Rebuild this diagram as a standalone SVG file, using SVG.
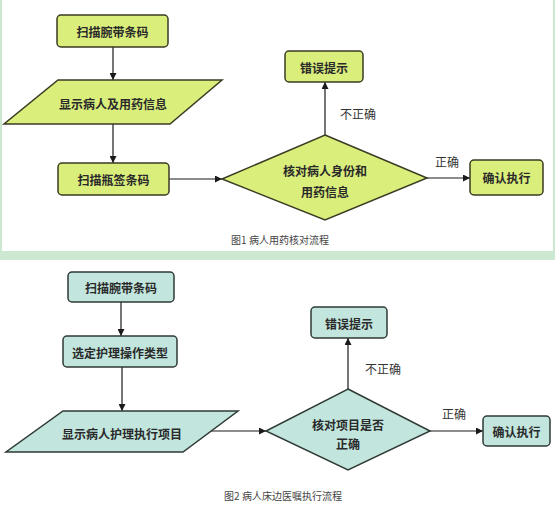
<svg xmlns="http://www.w3.org/2000/svg" width="555" height="508" viewBox="0 0 555 508">
<defs>
<marker id="ah" viewBox="0 0 10 10" refX="10" refY="5" markerWidth="7" markerHeight="7" orient="auto" markerUnits="userSpaceOnUse"><path d="M0,0 L10,5 L0,10 z" fill="#1a1a1a"/></marker>
<style>
.y{fill:#daee7c;stroke:#3b3a22;stroke-width:1.5}
.t{fill:#c2e6de;stroke:#2f3a36;stroke-width:1.5}
.tx{font-family:"Noto Sans CJK SC","Noto Sans",sans-serif;font-size:12px;font-weight:bold;fill:#2a2a2a;text-anchor:middle;dominant-baseline:central}
.lb{font-family:"Noto Sans CJK SC","Noto Sans",sans-serif;font-size:12px;fill:#333;text-anchor:middle;dominant-baseline:central}
.cap{font-family:"Noto Sans CJK SC","Noto Sans",sans-serif;font-size:10px;fill:#444;text-anchor:middle;dominant-baseline:central}
.c{stroke:#1a1a1a;stroke-width:1.2;fill:none;marker-end:url(#ah)}
</style>
</defs>
<rect x="0" y="0" width="555" height="508" fill="#ffffff"/>
<rect x="0" y="0" width="2" height="251" fill="#cde8d0"/>
<rect x="553" y="0" width="2" height="251" fill="#cde8d0"/>
<rect x="0" y="251" width="555" height="9" fill="#cde8d0"/>

<g id="connectors">
<line class="c" x1="113" y1="47" x2="113" y2="80"/>
<line class="c" x1="113" y1="124" x2="113" y2="163"/>
<line class="c" x1="169" y1="179" x2="222" y2="179"/>
<line class="c" x1="325" y1="135" x2="325" y2="82"/>
<line class="c" x1="427" y1="178" x2="470" y2="178"/>
<line class="c" x1="121" y1="302" x2="121" y2="336"/>
<line class="c" x1="122" y1="367" x2="122" y2="411"/>
<line class="c" x1="211" y1="431" x2="266" y2="431"/>
<line class="c" x1="348" y1="389" x2="348" y2="338"/>
<line class="c" x1="430" y1="431" x2="483" y2="431"/>
<text class="lb" x="358" y="113">不正确</text>
<text class="lb" x="447" y="161">正确</text>
<text class="lb" x="383" y="368">不正确</text>
<text class="lb" x="454" y="413">正确</text>
</g>

<g id="n1"><rect class="y" x="57" y="15" width="111" height="32" rx="4"/><text class="tx" x="112.5" y="31">扫描腕带条码</text></g>
<g id="n2"><polygon class="y" points="58,80 222,80 170,124 4,124"/><text class="tx" x="113" y="103">显示病人及用药信息</text></g>
<g id="n3"><rect class="y" x="58" y="163" width="111" height="32" rx="4"/><text class="tx" x="113.5" y="179">扫描瓶签条码</text></g>
<g id="n4"><polygon class="y" points="325,135 427,178 325,220 222,179"/><text class="tx" x="325" y="170">核对病人身份和</text><text class="tx" x="325" y="191">用药信息</text></g>
<g id="n5"><rect class="y" x="285" y="51" width="78" height="31" rx="4"/><text class="tx" x="324" y="67">错误提示</text></g>
<g id="n6"><rect class="y" x="470" y="160" width="73" height="35" rx="4"/><text class="tx" x="506.5" y="177">确认执行</text></g>
<text id="cap1" class="cap" x="280" y="239">图1 病人用药核对流程</text>

<g id="m1"><rect class="t" x="68" y="272" width="106" height="30" rx="4"/><text class="tx" x="121" y="287">扫描腕带条码</text></g>
<g id="m2"><rect class="t" x="63" y="336" width="114" height="31" rx="4"/><text class="tx" x="120" y="352">选定护理操作类型</text></g>
<g id="m3"><polygon class="t" points="63,411 238,411 183,452 6,452"/><text class="tx" x="122" y="433">显示病人护理执行项目</text></g>
<g id="m4"><polygon class="t" points="348,389 430,431 348,470 266,431"/><text class="tx" x="348" y="424">核对项目是否</text><text class="tx" x="348" y="443">正确</text></g>
<g id="m5"><rect class="t" x="311" y="307" width="76" height="31" rx="4"/><text class="tx" x="349" y="323">错误提示</text></g>
<g id="m6"><rect class="t" x="483" y="416" width="67" height="30" rx="4"/><text class="tx" x="516.5" y="431">确认执行</text></g>
<text id="cap2" class="cap" x="283" y="495">图2 病人床边医嘱执行流程</text>
</svg>
